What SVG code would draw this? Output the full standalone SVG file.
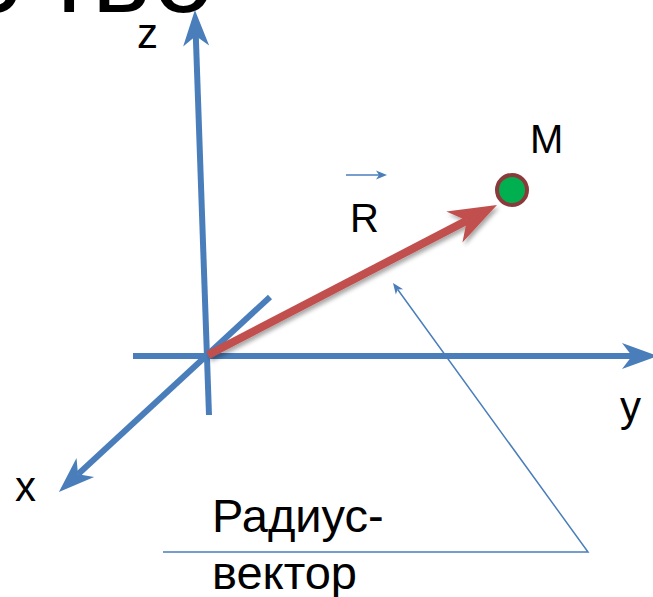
<svg xmlns="http://www.w3.org/2000/svg" width="653" height="597" viewBox="0 0 653 597">
  <style>
    .t { font-family: "Liberation Sans", Arial, sans-serif; fill: #000; }
    .axis { stroke: #4A7EBB; stroke-width: 6; fill: none; }
    .thin { stroke: #4A7EBB; stroke-width: 1.5; fill: none; }
  </style>
  <defs>
    <marker id="ax" markerUnits="userSpaceOnUse" viewBox="-12 -15 40 30" markerWidth="40" markerHeight="30" refX="0" refY="0" orient="auto" overflow="visible">
      <path d="M26,0 L-10,-13 L0,0 L-10,13 Z" fill="#4A7EBB"/>
    </marker>
    <marker id="rd" markerUnits="userSpaceOnUse" viewBox="-16 -20 52 40" markerWidth="52" markerHeight="40" refX="0" refY="0" orient="auto" overflow="visible">
      <path d="M34,0 L-14,-17.5 L0,0 L-14,17.5 Z" fill="#C0504D"/>
    </marker>
    <marker id="sm" markerUnits="userSpaceOnUse" viewBox="-4 -5 14 10" markerWidth="14" markerHeight="10" refX="0" refY="0" orient="auto" overflow="visible">
      <path d="M8,0 L-3,-4.5 L0,0 L-3,4.5 Z" fill="#4A7EBB"/>
    </marker>
    <filter id="sh" x="-10%" y="-20%" width="130%" height="150%">
      <feDropShadow dx="2" dy="3" stdDeviation="2" flood-color="#000" flood-opacity="0.35"/>
    </filter>
  </defs>

  <g id="title">
    <text class="t" font-size="110" x="-35 44 92 153" y="12">ство</text>
  </g>

  <g id="axes">
    <line id="axis-z" class="axis" x1="209" y1="415" x2="195.8" y2="36" marker-end="url(#ax)"/>
    <line id="axis-y" class="axis" x1="133" y1="356" x2="632" y2="356" marker-end="url(#ax)"/>
    <line id="axis-x" class="axis" x1="270" y1="297" x2="78" y2="474.3" marker-end="url(#ax)"/>
  </g>

  <g id="vector-R" filter="url(#sh)">
    <line x1="208" y1="355" x2="466.8" y2="220.6" stroke="#C0504D" stroke-width="8" marker-end="url(#rd)"/>
  </g>

  <g id="point-M">
    <circle cx="512" cy="190" r="15" fill="#00B050" stroke="#8B3A3A" stroke-width="4"/>
  </g>

  <g id="labels">
    <text class="t" font-size="42" x="137" y="48">z</text>
    <text class="t" font-size="42" x="15" y="501">x</text>
    <text class="t" font-size="42" x="620" y="421">y</text>
    <text class="t" font-size="40" x="530" y="153">M</text>
    <text class="t" font-size="40" x="350" y="232">R</text>
    <line class="thin" x1="346" y1="175" x2="379" y2="175" stroke-width="1.2" marker-end="url(#sm)"/>
    <text class="t" font-size="47" x="212" y="532">Радиус-</text>
    <text class="t" font-size="47" x="212" y="589">вектор</text>
  </g>

  <g id="connectors">
    <polyline class="thin" points="163,552 588,552 397.7,289.5" marker-end="url(#sm)"/>
  </g>
</svg>
